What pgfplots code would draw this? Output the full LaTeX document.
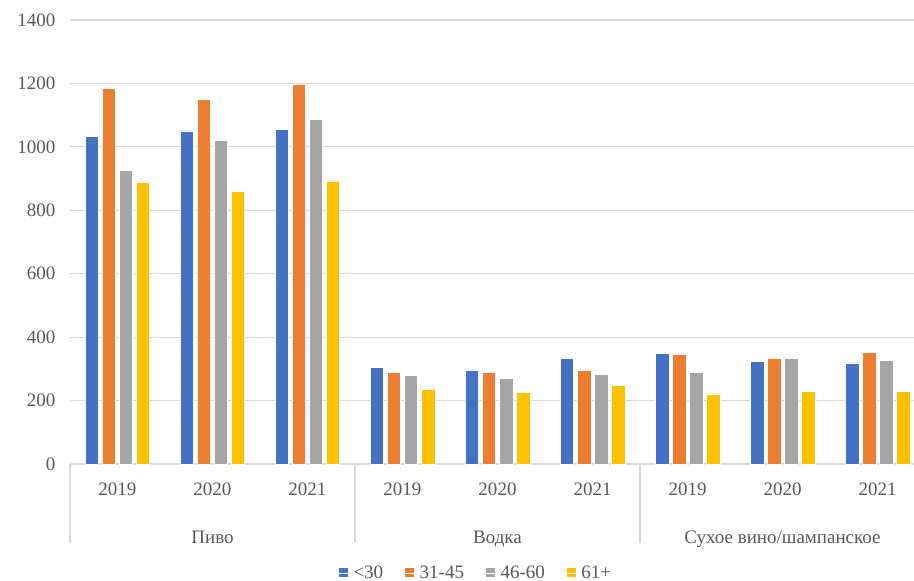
\documentclass[border=0pt]{standalone}
\usepackage{fontspec}
\setmainfont{Liberation Serif}
\usepackage{pgfplots}
\usepackage{pgfplotstable}
\pgfplotsset{compat=1.18}
\definecolor{cA}{HTML}{4472C4}
\definecolor{cB}{HTML}{ED7D31}
\definecolor{cC}{HTML}{A5A5A5}
\definecolor{cD}{HTML}{FFC000}
\definecolor{txt}{HTML}{595959}
\definecolor{grd}{HTML}{D9D9D9}
\newcommand\lab{\fontsize{19bp}{22bp}\selectfont}
\pgfplotstableread{
x a b c d
0 1032 1185 927 889
1 1050 1149 1022 861
2 1054 1197 1087 893
3 304 288 279 235
4 297 288 269 225
5 334 297 283 247
6 348 345 288 221
7 323 334 334 229
8 319 352 326 229
}\data
\begin{document}
\begin{tikzpicture}
\begin{axis}[
  scale only axis,
  width=855bp, height=444bp,
  ybar=3.5bp, bar width=13.5bp,
  xmin=-0.5, xmax=8.5, ymin=0, ymax=1400,
  enlargelimits=false,
  clip=false,
  axis line style={draw=none},
  major tick length=0pt,
  ytick={0,200,...,1400},
  xtick={0,...,8},
  xticklabels={2019,2020,2021,2019,2020,2021,2019,2020,2021},
  ymajorgrids,
  grid style={grd, line width=1.2bp},
  /pgf/number format/assume math mode=true,
  /pgf/number format/1000 sep={},
  yticklabel style={font=\lab, text=txt, xshift=-11bp},
  xticklabel style={font=\lab, text=txt, anchor=base, yshift=-31bp},
  legend columns=-1,
  legend style={draw=none, font=\lab, text=txt, at={(0.4743,0)}, anchor=center, yshift=-109bp,
    inner sep=0pt,
    /tikz/every even column/.append style={column sep=19bp}},
  legend image code/.code={\fill[#1] (0bp,-4bp) rectangle (10bp,6bp); \path (0bp,0bp) -- (13bp,0bp);},
  every axis plot/.append style={draw=white, line width=0.5bp},
]
\addplot[fill=cA] table[x=x,y=a]{\data};
\addplot[fill=cB] table[x=x,y=b]{\data};
\addplot[fill=cC] table[x=x,y=c]{\data};
\addplot[fill=cD] table[x=x,y=d]{\data};
\legend{<30,31-45,46-60,61+}
\foreach \s in {-0.5,2.5,5.5,8.5}{
  \edef\tmp{\noexpand\draw[grd, line width=1.2bp] (axis cs:\s,0) -- ([yshift=-79bp]axis cs:\s,0);}\tmp
}
\node[font=\lab, text=txt, anchor=base] at ([yshift=-79bp]axis cs:1,0) {Пиво};
\node[font=\lab, text=txt, anchor=base] at ([yshift=-79bp]axis cs:4,0) {Водка};
\node[font=\lab, text=txt, anchor=base] at ([yshift=-79bp]axis cs:7,0) {Сухое вино/шампанское};
\end{axis}
\pgfresetboundingbox
\path (current axis.south west) ++(-70bp,-117bp) rectangle ++(914bp,581bp);
\end{tikzpicture}
\end{document}
